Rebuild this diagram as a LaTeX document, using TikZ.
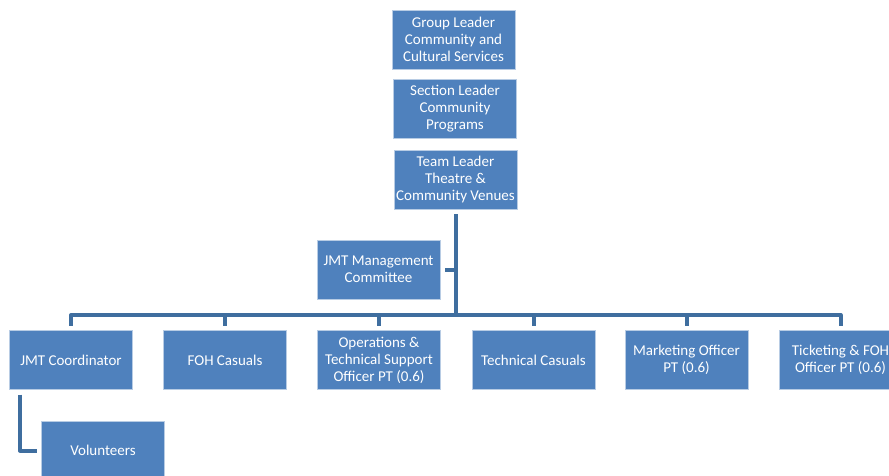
\documentclass[tikz,border=0pt]{standalone}
\usepackage{fontspec}
\setmainfont{Carlito}
\definecolor{boxblue}{HTML}{4F81BD}
\definecolor{boxedge}{HTML}{B8CCE4}
\definecolor{linkblue}{HTML}{3F6E9F}
\begin{document}
\begin{tikzpicture}[x=1pt,y=-1pt,
  orgbox/.style={rectangle, fill=boxblue, draw=boxedge, line width=0.8pt,
    minimum width=123pt, minimum height=59pt, inner sep=1pt, outer sep=5pt,
    text=white, align=center, font=\fontsize{15}{17}\selectfont},
  link/.style={draw=linkblue, line width=4pt, line join=round}]
\clip (0,0) rectangle (889,475);
\fill[white] (0,0) rectangle (889,475);

% upper chain
\node[orgbox] (g1) at (453.5,39.5) {Group Leader\\Community and\\Cultural Services};
\node[orgbox] (g2) at (455,108.5) {Section Leader\\Community\\Programs};
\node[orgbox] (g3) at (455.5,179.5) {Team Leader\\Theatre \&\\Community Venues};
\node[orgbox] (jmc) at (378.5,269.5) {JMT Management\\Committee};

% staff row
\node[orgbox] (c1) at (71,360) {JMT Coordinator};
\node[orgbox] (c2) at (225,360) {FOH Casuals};
\node[orgbox] (c3) at (379,360) {Operations \&\\Technical Support\\Officer PT (0.6)};
\node[orgbox] (c4) at (533.5,360) {Technical Casuals};
\node[orgbox] (c5) at (686.5,360) {Marketing Officer\\PT (0.6)};
\node[orgbox] (c6) at (840.5,360) {Ticketing \& FOH\\Officer PT (0.6)};
\node[orgbox] (vol) at (103,450.5) {Volunteers};

% bus level and side rail
\coordinate (bus) at (0,315);
\coordinate (rail) at (20,0);

\draw[link] (g3.south) -- (g3.south |- bus);
\draw[link] (c1.north) -- (c1.north |- bus) -- (c6.north |- bus) -- (c6.north);
\foreach \n in {c2,c3,c4,c5}
  \draw[link] (\n.north) -- (\n.north |- bus);
\draw[link] (jmc.east) -- (jmc.east -| g3.south);
\draw[link] (c1.south -| rail) -- (rail |- vol.west) -- (vol.west);
\end{tikzpicture}
\end{document}
